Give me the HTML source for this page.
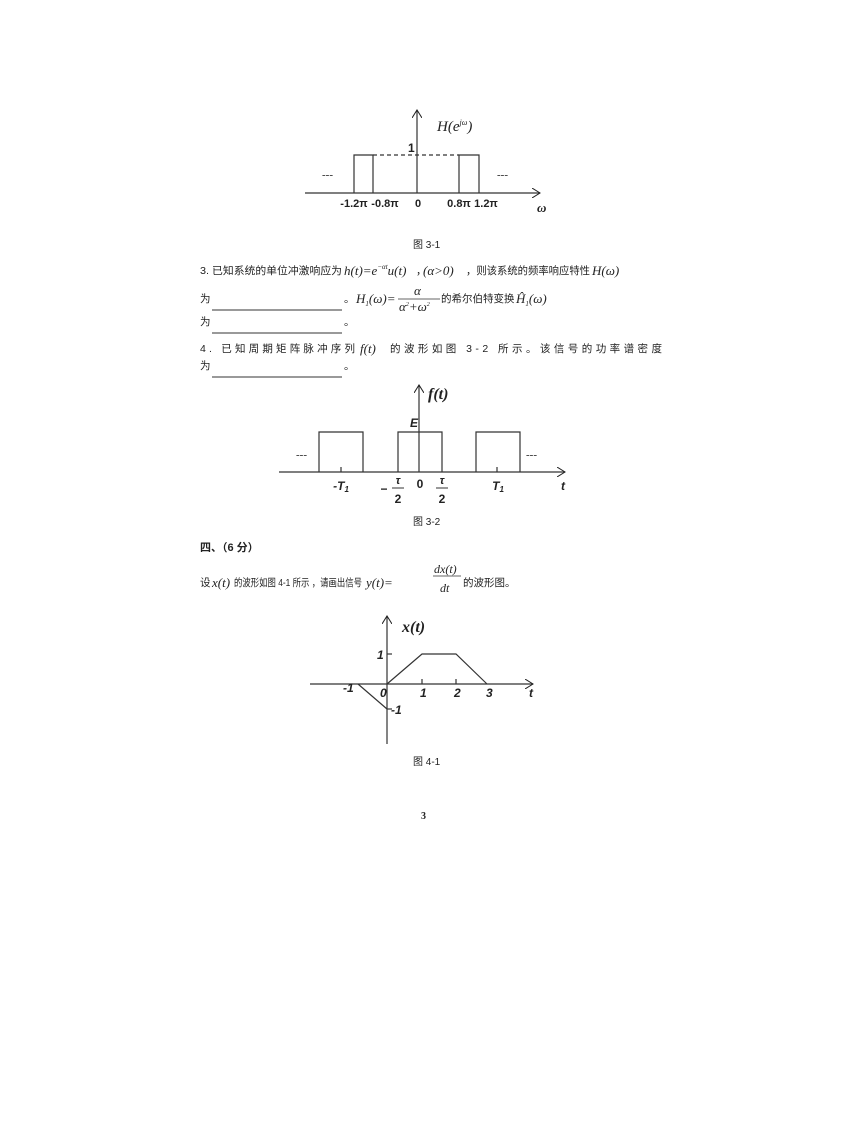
<!DOCTYPE html>
<html><head><meta charset="utf-8"><style>
body{margin:0;background:#fff;}
svg{display:block}
text{font-family:"Liberation Serif","Noto Serif CJK SC",serif;fill:#222}
.s,.s text{font-family:"Liberation Sans","Noto Sans CJK SC",sans-serif}
.b{font-weight:bold}
.i{font-style:italic}
</style></head><body>
<svg width="866" height="1122" viewBox="0 0 866 1122" xmlns="http://www.w3.org/2000/svg">
<defs><marker id="a" markerWidth="10" markerHeight="10" refX="8" refY="5" orient="auto" markerUnits="userSpaceOnUse"><path d="M0,0 L8,5 L0,10" fill="none" stroke="#222" stroke-width="1"/></marker></defs>
<g stroke="#333" stroke-width="1.2" fill="none">
<line x1="305" y1="193" x2="540" y2="193" marker-end="url(#a)"/>
<line x1="417" y1="193" x2="417" y2="110" marker-end="url(#a)"/>
<polyline points="354,193 354,155 373,155 373,193"/>
<polyline points="459,193 459,155 479,155 479,193"/>
<line x1="373" y1="155" x2="459" y2="155" stroke-dasharray="4,3"/>
<line x1="279" y1="472" x2="565" y2="472" marker-end="url(#a)"/>
<line x1="419" y1="472" x2="419" y2="385" marker-end="url(#a)"/>
<polyline points="319,472 319,432 363,432 363,472"/>
<polyline points="398,472 398,432 442,432 442,472"/>
<polyline points="476,472 476,432 520,432 520,472"/>
<line x1="341" y1="467" x2="341" y2="472"/><line x1="497" y1="467" x2="497" y2="472"/>
<line x1="310" y1="684" x2="533" y2="684" marker-end="url(#a)"/>
<line x1="387" y1="744" x2="387" y2="616" marker-end="url(#a)"/>
<polyline points="358,684 387,709"/>
<polyline points="387,684 422,654 456,654 487,684"/>
<line x1="387" y1="654" x2="392" y2="654"/><line x1="387" y1="709" x2="392" y2="709"/>
<line x1="422" y1="679" x2="422" y2="684"/><line x1="456" y1="679" x2="456" y2="684"/>
<line x1="212" y1="310" x2="342" y2="310" stroke-width="1"/>
<line x1="212" y1="333" x2="342" y2="333" stroke-width="1"/>
<line x1="212" y1="377" x2="342" y2="377" stroke-width="1"/>
<line x1="398" y1="299" x2="440" y2="299" stroke-width="0.8"/>
<line x1="433" y1="576" x2="461" y2="576" stroke-width="0.8"/>
</g>
<text x="437" y="131" font-size="15" class="i">H(e<tspan font-size="8" dy="-6">jω</tspan><tspan dy="6">)</tspan></text>
<text x="408" y="152" font-size="12" class="s b">1</text>
<g font-size="11" class="s b" text-anchor="middle">
<text x="354" y="207">-1.2π</text><text x="385" y="207">-0.8π</text><text x="418" y="207">0</text><text x="459" y="207">0.8π</text><text x="486" y="207">1.2π</text>
</g>
<text x="537" y="212" font-size="13" class="i b">ω</text>
<text x="322" y="178" font-size="11">---</text><text x="497" y="178" font-size="11">---</text>
<text x="413" y="248" font-size="10" class="s" fill="#555">图 3-1</text>
<g font-size="10.5" class="s">
<text x="200" y="274" textLength="142" lengthAdjust="spacingAndGlyphs">3.  已知系统的单位冲激响应为</text>
<text x="416" y="274">，</text><text x="466" y="274" textLength="124" lengthAdjust="spacingAndGlyphs">，则该系统的频率响应特性</text>
<text x="200" y="302">为</text><text x="344" y="302">。</text>
<text x="441" y="302">的希尔伯特变换</text>
<text x="200" y="325">为</text><text x="344" y="325">。</text>
<text x="200" y="352" textLength="155" lengthAdjust="spacing">4.  已知周期矩阵脉冲序列</text>
<text x="390" y="352" textLength="272" lengthAdjust="spacing">的波形如图 3-2 所示。该信号的功率谱密度</text>
<text x="200" y="369">为</text><text x="344" y="369">。</text>
</g>
<g font-size="13" class="i">
<text x="344" y="275">h(t)=e<tspan font-size="7" dy="-6">−αt</tspan><tspan dy="6">u(t)</tspan></text>
<text x="423" y="275">(α&gt;0)</text>
<text x="592" y="275">H(ω)</text>
<text x="356" y="303">H<tspan font-size="7" dy="3">1</tspan><tspan dy="-3">(ω)=</tspan></text>
<text x="414" y="295">α</text>
<text x="399" y="311">α<tspan font-size="6" dy="-5">2</tspan><tspan dy="5">+ω</tspan><tspan font-size="6" dy="-5">2</tspan></text>
<text x="516" y="303">Ĥ<tspan font-size="7" dy="3">1</tspan><tspan dy="-3">(ω)</tspan></text>
<text x="360" y="353">f(t)</text>
</g>
<text x="428" y="399" font-size="16" class="i b">f(t)</text>
<text x="410" y="427" font-size="12" class="s i b">E</text>
<text x="296" y="458" font-size="11">---</text><text x="526" y="458" font-size="11">---</text>
<g font-size="12" class="s b i" text-anchor="middle">
<text x="341" y="490">-T<tspan font-size="8" dy="2">1</tspan></text>
<text x="498" y="490">T<tspan font-size="8" dy="2">1</tspan></text>
<text x="420" y="488" font-style="normal">0</text>
<text x="563" y="490">t</text>
<text x="398" y="484" font-size="11">τ</text><text x="398" y="503" font-style="normal">2</text>
<text x="442" y="484" font-size="11">τ</text><text x="442" y="503" font-style="normal">2</text>
<text x="384" y="493" font-style="normal">−</text>
</g>
<line x1="392" y1="488" x2="404" y2="488" stroke="#333"/><line x1="436" y1="488" x2="448" y2="488" stroke="#333"/>
<text x="413" y="525" font-size="10" class="s" fill="#555">图 3-2</text>
<text x="200" y="551" font-size="11" class="s b">四、（6 分）</text>
<g font-size="10.5" class="s">
<text x="200" y="586">设</text><text x="234" y="586" textLength="128" lengthAdjust="spacingAndGlyphs">的波形如图 4-1 所示 ，请画出信号</text><text x="463" y="586">的波形图。</text>
</g>
<g font-size="13" class="i">
<text x="212" y="587">x(t)</text>
<text x="366" y="587">y(t)=</text>
<text x="434" y="573" font-size="12">dx(t)</text>
<text x="440" y="592" font-size="12">dt</text>
</g>
<text x="402" y="632" font-size="16" class="b i">x(t)</text>
<g font-size="12" class="s b i">
<text x="377" y="659">1</text>
<text x="343" y="692">-1</text><text x="380" y="697">0</text>
<text x="391" y="714">-1</text>
<text x="420" y="697">1</text><text x="454" y="697">2</text><text x="486" y="697">3</text>
<text x="529" y="697">t</text>
</g>
<text x="413" y="765" font-size="10" class="s" fill="#555">图 4-1</text>
<text x="421" y="819" font-size="10" class="b">3</text>
</svg>
</body></html>
